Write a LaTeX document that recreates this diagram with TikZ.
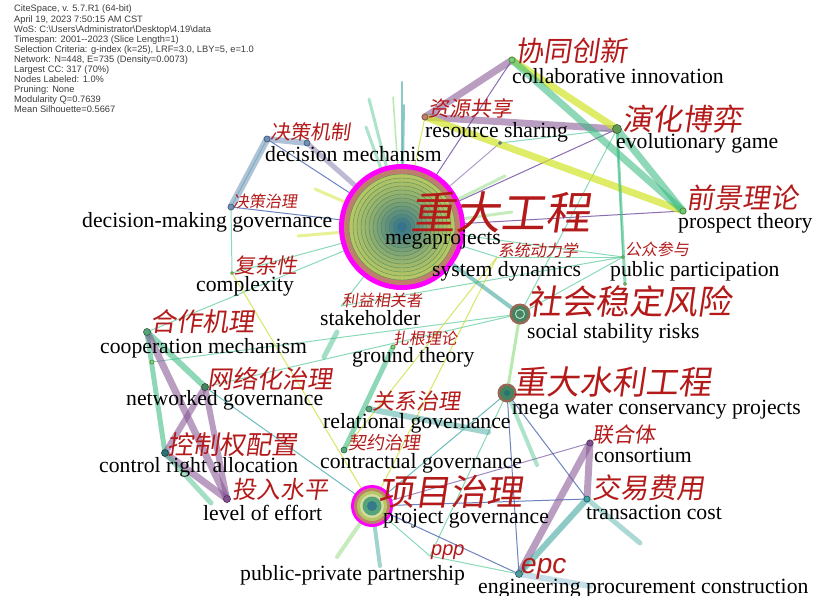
\documentclass[tikz,border=0pt]{standalone}
\usepackage{fontspec}
\setmainfont{Liberation Serif}
\newfontfamily\cjk[FakeSlant=0.15]{Noto Sans CJK SC}
\newfontfamily\infofont{Liberation Sans}
\definecolor{cnred}{RGB}{180,26,26}
\definecolor{infogray}{RGB}{60,60,60}
\definecolor{hubmag}{RGB}{255,0,255}
\definecolor{hubbrown}{RGB}{190,128,108}
\definecolor{hubolive}{RGB}{182,198,100}
\definecolor{hubteal}{RGB}{45,110,145}
\definecolor{hubline}{RGB}{60,130,85}
\definecolor{cpurple}{RGB}{130,80,145}
\definecolor{cgreen}{RGB}{50,185,125}
\definecolor{clgreen}{RGB}{130,215,110}
\definecolor{cyellow}{RGB}{210,228,40}
\definecolor{cteal}{RGB}{50,160,150}
\definecolor{cblue}{RGB}{110,145,185}
\definecolor{cgray}{RGB}{140,130,175}
\definecolor{clblue}{RGB}{140,195,210}
\definecolor{tpurple}{RGB}{100,60,150}
\definecolor{tblue}{RGB}{60,90,170}
\definecolor{tgreen}{RGB}{100,205,160}
\definecolor{tyellow}{RGB}{205,222,50}
\definecolor{tteal}{RGB}{60,165,165}
\definecolor{dotgreen}{RGB}{85,165,120}
\tikzset{
  band/.style={line width=7pt, line cap=round, opacity=0.55},
  pband/.style={band, draw=cpurple},
  gband/.style={band, draw=cgreen},
  lgband/.style={band, draw=clgreen},
  yband/.style={band, draw=cyellow, opacity=0.7},
  tband/.style={band, draw=cteal},
  bband/.style={band, draw=cblue},
  thinedge/.style={line width=1pt, opacity=0.75},
  tp/.style={thinedge, draw=tpurple},
  tb/.style={thinedge, draw=tblue},
  tg/.style={thinedge, draw=tgreen},
  ty/.style={thinedge, draw=tyellow},
  tt/.style={thinedge, draw=tteal},
  dot/.style={circle, inner sep=0pt, minimum size=6pt, fill=#1, draw=#1!60!black, line width=0.6pt},
  dot/.default=dotgreen,
  cn/.style={anchor=base west, inner sep=0pt, text=cnred, font=\cjk\fontsize{#1}{#1}\selectfont},
  en/.style={anchor=base west, inner sep=0pt, text=black, font=\fontsize{21.7}{21.7}\selectfont},
}
\begin{document}
\begin{tikzpicture}[x=1pt,y=-1pt]
\useasboundingbox (0,0) rectangle (813,595);
\fill[white] (0,0) rectangle (813,595);
% ---------- node centres ----------
\coordinate (mega) at (402,227);
\coordinate (pg) at (372,506);
\coordinate (ssr) at (520,314);
\coordinate (water) at (507,393);
\coordinate (ci) at (512,60);
\coordinate (rs) at (425,117);
\coordinate (eg) at (617,129);
\coordinate (pt) at (683,211);
\coordinate (pp) at (623,257);
\coordinate (sd) at (497,257);
\coordinate (dm) at (267,139);
\coordinate (dmb) at (307,143);
\coordinate (dg) at (231,207);
\coordinate (cx) at (232,273);
\coordinate (sh) at (341,306);
\coordinate (gt) at (393,347);
\coordinate (cm) at (147,332);
\coordinate (cmb) at (152,362);
\coordinate (nw) at (205,387);
\coordinate (cr) at (165,453);
\coordinate (le) at (227,499);
\coordinate (rg) at (369,409);
\coordinate (cg) at (344,450);
\coordinate (co) at (590,443);
\coordinate (tc) at (587,499);
\coordinate (epc) at (519,574);
\coordinate (ppp) at (430,556);
\coordinate (egb) at (500,143);
\coordinate (ppb) at (625,284);
\coordinate (s1) at (402,82);
\coordinate (s2) at (369,99);
\coordinate (s3) at (393,97);
\coordinate (s4) at (366,127);
\coordinate (s5) at (404,105);
\coordinate (s6) at (505,176);
\coordinate (s7) at (512,212);
\coordinate (s8) at (315,189);
\coordinate (s9) at (298,236);
\coordinate (s10) at (337,557);
\coordinate (s11) at (380,566);
\coordinate (s12) at (211,503);
\coordinate (s13) at (537,465);
\coordinate (s14) at (640,543);
\coordinate (s15) at (590,586);
\coordinate (s16) at (488,432);
\coordinate (shA) at (337,332);
\coordinate (shB) at (324,357);
% ---------- thin edges ----------
\draw[tp] (mega) -- (ci);
\draw[tp] (mega) -- (eg);
\draw[tp] (mega) -- (pt);
\draw[tp, opacity=0.5] (mega) -- (egb);
\draw[tp, opacity=0.6] (pg) -- (co);
\draw[tg] (egb) -- (eg);
\draw[tg] (eg) -- (pp);
\draw[tg] (eg) -- (ssr);
\draw[tg] (pp) -- (mega);
\draw[tg] (pp) -- (sd);
\draw[tg] (pp) -- (ssr);
\draw[tg] (sh) -- (mega);
\draw[tg] (sh) -- (pp);
\draw[tg] (dg) -- (cx);
\draw[tg] (dg) -- (dm);
\draw[tg] (cx) -- (mega);
\draw[tg] (nw) -- (ssr);
\draw[tg] (cmb) -- (ssr);
\draw[tg] (cm) -- (mega);
\draw[tg] (pg) -- (ppp);
\draw[tg] (ppp) -- (epc);
\draw[tg] (water) -- (ppp);
\draw[tg] (sd) -- (mega);
\draw[ty] (rs) -- (mega);
\draw[ty] (cx) -- (pg);
\draw[ty] (sd) -- (pg);
\draw[ty] (sd) -- (cg);
\draw[tb] (dm) -- (mega);
\draw[tb] (dg) -- (mega);
\draw[tb] (pg) -- (tc);
\draw[tb] (pg) -- (epc);
\draw[tb] (water) -- (epc);
\draw[tb] (water) -- (tc);
\draw[tt] (nw) -- (pg);
\draw[tt] (water) -- (pg);
% ---------- spokes ----------
\draw[tband, line width=2.5pt] (mega) -- (s1);
\draw[tband, line width=2pt] (mega) -- (s5);
\draw[gband, line width=3pt, opacity=0.4] (mega) -- (s2);
\draw[lgband, line width=1.5pt] (mega) -- (s3);
\draw[gband, line width=3pt, opacity=0.4] (mega) -- (s4);
\draw[lgband, line width=3pt, opacity=0.45] (mega) -- (s6);
\draw[lgband, line width=3pt, opacity=0.45] (mega) -- (s7);
\draw[yband, line width=3pt, opacity=0.5] (mega) -- (s8);
\draw[yband, line width=3pt, opacity=0.5] (mega) -- (s9);
\draw[lgband, line width=4pt, opacity=0.45] (pg) -- (s10);
\draw[tband, line width=4pt, opacity=0.45] (pg) -- (s11);
% ---------- thick edges ----------
\draw[pband] (ci) -- (rs);
\draw[pband] (rs) -- (eg);
\draw[yband] (rs) -- (pt);
\draw[yband] (ci) -- (eg);
\draw[gband] (ci) -- (pt);
\draw[gband] (eg) -- (pt);
\draw[gband, line width=3pt] (eg) -- (ppb);
\draw[bband] (dm) -- (dg);
\draw[bband, line width=6pt] (dm) -- (dmb);
\draw[band, draw=cgray, line width=5pt] (dmb) -- (mega);
\draw[tband, line width=4pt] (mega) -- (ssr);
\draw[lgband, line width=3pt] (ssr) -- (water);
\draw[gband, line width=4pt, opacity=0.4] (water) -- (s13);
\draw[gband, line width=6pt] (cm) -- (nw);
\draw[gband, line width=5pt] (cm) -- (cr);
\draw[pband] (cm) -- (le);
\draw[pband, line width=6pt] (nw) -- (cr);
\draw[pband, line width=6pt] (nw) -- (le);
\draw[pband] (cr) -- (le);
\draw[gband, line width=5pt, opacity=0.45] (cr) -- (s12);
\draw[gband, line width=5pt] (cg) -- (gt);
\draw[tband, line width=6pt, opacity=0.45] (rg) -- (s16);
\draw[gband, line width=5pt, opacity=0.45] (shA) -- (shB);
\draw[pband] (co) -- (tc);
\draw[pband] (co) -- (epc);
\draw[tband, line width=6pt] (tc) -- (epc);
\draw[tband, line width=5pt, opacity=0.4] (tc) -- (s14);
\draw[band, draw=clblue, line width=6pt, opacity=0.5] (epc) -- (s15);
% ---------- hub: megaprojects ----------
\fill[hubmag] (mega) circle (63pt);
\fill[hubbrown] (mega) circle (58pt);
\foreach \r/\p in {53/100,49/95,45/90,41/84,37/78,33/71,29/63,25/55,21/46,17/37,13/27,9/16,5/5}{
  \fill[hubolive!\p!hubteal] (mega) circle (\r pt);
  \draw[hubline, line width=0.4pt, opacity=0.8] (mega) circle (\r pt);
}
% ---------- hub: project governance ----------
\fill[hubmag] (pg) circle (21pt);
\fill[hubbrown] (pg) circle (18pt);
\fill[hubolive] (pg) circle (15pt);
\fill[hubolive!60!white] (pg) circle (12pt);
\fill[dotgreen] (pg) circle (9.5pt);
\fill[hubteal!80!dotgreen] (pg) circle (5pt);
% ---------- other hubs ----------
\fill[hubbrown!80!black] (ssr) circle (10.5pt);
\fill[dotgreen!80!black] (ssr) circle (8pt);
\draw[dotgreen!40!white, line width=1pt] (ssr) circle (4.5pt);
\fill[hubbrown!80!black] (water) circle (9.5pt);
\fill[dotgreen!80!black] (water) circle (7pt);
\fill[tteal!70!black] (water) circle (3pt);
% ---------- small nodes ----------
\node[dot=clgreen!80!dotgreen] (n-ci) at (ci) {};
\node[dot=hubbrown] (n-rs) at (rs) {};
\node[dot=dotgreen!70!olive, minimum size=9pt] (n-eg) at (eg) {};
\node[dot=clgreen!70!dotgreen] (n-pt) at (pt) {};
\node[dot=clgreen, minimum size=3pt] (n-pp) at (pp) {};
\node[dot=clgreen, minimum size=3pt] (n-ppb) at (ppb) {};
\node[dot=cblue] (n-dm) at (dm) {};
\node[dot=cblue] (n-dmb) at (dmb) {};
\node[dot=cblue] (n-dg) at (dg) {};
\node[dot=clgreen, minimum size=3pt] (n-cx) at (cx) {};
\node[dot=dotgreen, minimum size=7pt] (n-cm) at (cm) {};
\node[dot=clgreen, minimum size=4pt] (n-cmb) at (cmb) {};
\node[dot=dotgreen!80!black, minimum size=7pt] (n-nw) at (nw) {};
\node[dot=tteal!70!black, minimum size=7pt] (n-cr) at (cr) {};
\node[dot=cpurple, minimum size=7pt] (n-le) at (le) {};
\node[dot=dotgreen] (n-rg) at (rg) {};
\node[dot=dotgreen] (n-cg) at (cg) {};
\node[dot=clgreen, minimum size=4pt] (n-gt) at (gt) {};
\node[dot=cpurple] (n-co) at (co) {};
\node[dot=tteal] (n-tc) at (tc) {};
\node[dot=tteal!70!gray, minimum size=7pt] (n-epc) at (epc) {};
\node[dot=cblue, minimum size=3pt] (n-egb) at (egb) {};
% ---------- labels ----------
\node[cn=45] (l-mega) at (410,229) {重大工程};
\node[en] (e-mega) at (385,244) {megaprojects};
\node[cn=28] (l-ci) at (515,61) {协同创新};
\node[en] (e-ci) at (512,83) {collaborative innovation};
\node[cn=21] (l-rs) at (428,116) {资源共享};
\node[en] (e-rs) at (425,137) {resource sharing};
\node[cn=30] (l-eg) at (622,130) {演化博弈};
\node[en] (e-eg) at (616,148) {evolutionary game};
\node[cn=20] (l-dm) at (270,139) {决策机制};
\node[en] (e-dm) at (265,161) {decision mechanism};
\node[cn=28] (l-pt) at (686,208) {前景理论};
\node[en] (e-pt) at (678,228) {prospect theory};
\node[cn=16] (l-dg) at (233,207) {决策治理};
\node[en] (e-dg) at (82,227) {decision-making governance};
\node[cn=16] (l-sd) at (498,256) {系统动力学};
\node[en] (e-sd) at (432,276) {system dynamics};
\node[cn=16] (l-pp) at (625,255) {公众参与};
\node[en] (e-pp) at (610,276) {public participation};
\node[cn=21] (l-cx) at (234,273) {复杂性};
\node[en] (e-cx) at (196,291) {complexity};
\node[cn=16] (l-sh) at (342,306) {利益相关者};
\node[en] (e-sh) at (320,325) {stakeholder};
\node[cn=34] (l-ssr) at (527,314) {社会稳定风险};
\node[en] (e-ssr) at (527,338) {social stability risks};
\node[cn=26] (l-cm) at (150,331) {合作机理};
\node[en] (e-cm) at (100,353) {cooperation mechanism};
\node[cn=16] (l-gt) at (393,344) {扎根理论};
\node[en] (e-gt) at (352,362) {ground theory};
\node[cn=25] (l-nw) at (207,388) {网络化治理};
\node[en] (e-nw) at (126,405) {networked governance};
\node[cn=33] (l-water) at (513,394) {重大水利工程};
\node[en] (e-water) at (512,414) {mega water conservancy projects};
\node[cn=22] (l-rg) at (372,409) {关系治理};
\node[en] (e-rg) at (323,428) {relational governance};
\node[cn=21] (l-co) at (592,442) {联合体};
\node[en] (e-co) at (594,462) {consortium};
\node[cn=18] (l-cg) at (348,449) {契约治理};
\node[en] (e-cg) at (320,468) {contractual governance};
\node[cn=26] (l-cr) at (167,454) {控制权配置};
\node[en] (e-cr) at (99,472) {control right allocation};
\node[cn=24] (l-le) at (232,498) {投入水平};
\node[en] (e-le) at (203,520) {level of effort};
\node[cn=28] (l-tc) at (592,498) {交易费用};
\node[en] (e-tc) at (586,519) {transaction cost};
\node[cn=36] (l-pg) at (378,505) {项目治理};
\node[en] (e-pg) at (383,523) {project governance};
\node[anchor=base west, inner sep=0pt, text=cnred, font=\infofont\itshape\fontsize{20}{20}\selectfont] (l-ppp) at (431,555) {ppp};
\node[en] (e-ppp) at (240,580) {public-private partnership};
\node[anchor=base west, inner sep=0pt, text=cnred, font=\infofont\itshape\fontsize{28}{28}\selectfont] (l-epc) at (521,573) {epc};
\node[en] (e-epc) at (478,593) {engineering procurement construction};
% ---------- info ----------
\node[anchor=north west, inner sep=0pt, align=left, text=infogray,
      font=\infofont\fontsize{9.3}{10.1}\selectfont] (info) at (14,5) {%
CiteSpace, v. 5.7.R1 (64-bit)\\
April 19, 2023 7:50:15 AM CST\\
WoS: C:\textbackslash Users\textbackslash Administrator\textbackslash Desktop\textbackslash 4.19\textbackslash data\\
Timespan: 2001--2023 (Slice Length=1)\\
Selection Criteria: g-index (k=25), LRF=3.0, LBY=5, e=1.0\\
Network: N=448, E=735 (Density=0.0073)\\
Largest CC: 317 (70\%)\\
Nodes Labeled: 1.0\%\\
Pruning: None\\
Modularity Q=0.7639\\
Mean Silhouette=0.5667};
\end{tikzpicture}
\end{document}
